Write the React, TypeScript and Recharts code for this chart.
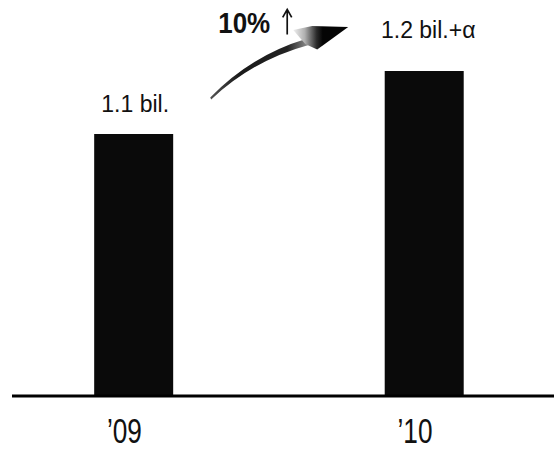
import React from "react";
import { BarChart, Bar, XAxis, YAxis, LabelList } from "recharts";

// Shipments by year, in billions
const years = [2009, 2010];
const yearLabels = ["\u201909", "\u201910"];
const values = [1.1, 1.2];
const valueLabels = ["1.1 bil.", "1.2 bil.+\u03b1"];
const growthLabel = "10%";

const data = years.map((year, i) => ({ year, value: values[i], label: valueLabels[i] }));

const FONT = "'Liberation Sans', Arial, Helvetica, sans-serif";

// Per-bar nudges for the value captions (relative to bar center / bar top)
const captionShiftX = [1.5, 4];
const captionRise = [22, 33];

const YearTick = (props: any) => {
  const { x, y, payload } = props;
  const idx = years.indexOf(payload.value);
  return (
    <g transform={`translate(${x - 9},${y + 47}) scale(0.82,1.12)`}>
      <text x={0} y={0} textAnchor="middle" fontFamily={FONT} fontSize={32} fill="#111">
        {yearLabels[idx]}
      </text>
    </g>
  );
};

const ValueCaption = (props: any) => {
  const { x, y, width, index } = props;
  return (
    <text
      x={x + width / 2 + captionShiftX[index]}
      y={y - captionRise[index]}
      textAnchor="middle"
      fontFamily={FONT}
      fontSize={23}
      fill="#111"
    >
      {valueLabels[index]}
    </text>
  );
};

// Curved growth arrow, anchored to the top-left corner of the last bar
const GrowthArrow = (props: any) => {
  const { x, y, index } = props;
  if (index !== values.length - 1) return null;
  const p = (dx: number, dy: number) => `${x + dx} ${y + dy}`;
  return (
    <g>
      <defs>
        <linearGradient id="arrowHead" gradientUnits="userSpaceOnUse" x1={x - 92} y1={0} x2={x - 62} y2={0}>
          <stop offset="0%" stopColor="#f2f2f2" />
          <stop offset="40%" stopColor="#b0b0b0" />
          <stop offset="80%" stopColor="#2a2a2a" />
          <stop offset="100%" stopColor="#050505" />
        </linearGradient>
        <linearGradient id="arrowShaft" gradientUnits="userSpaceOnUse" x1={x - 175} y1={0} x2={x - 78} y2={0}>
          <stop offset="0%" stopColor="#555" />
          <stop offset="30%" stopColor="#1a1a1a" />
          <stop offset="80%" stopColor="#222" />
          <stop offset="100%" stopColor="#888" />
        </linearGradient>
      </defs>
      {/* tapered shaft */}
      <path
        d={`M ${p(-174.5, 26.5)} Q ${p(-133.5, -15.5)} ${p(-79, -32)} L ${p(-76, -26)} Q ${p(-131.5, -11)} ${p(-173.5, 28.5)} Z`}
        fill="url(#arrowShaft)"
      />
      {/* head */}
      <path
        d={`M ${p(-91.5, -41)} L ${p(-72.5, -45)} L ${p(-36.5, -44)} L ${p(-67.5, -21.5)} L ${p(-79.5, -27)} Z`}
        fill="url(#arrowHead)"
      />
      <text x={x - 166.5} y={y - 38} fontFamily={FONT} fontSize={26} fontWeight="bold" fill="#111"
        transform={`translate(0,${(y - 38) * -0.1}) scale(1,1.1)`}>
        {growthLabel}
      </text>
      {/* thin up-arrow next to the percentage */}
      <path
        d={`M ${p(-97.5, -36.5)} L ${p(-97.5, -60.5)} M ${p(-102, -53.5)} L ${p(-97.5, -61.5)} L ${p(-93, -53.5)}`}
        fill="none"
        stroke="#111"
        strokeWidth={1.7}
      />
    </g>
  );
};

export default function App() {
  return (
    <div style={{ position: "absolute", left: 0, top: 0, width: 554, height: 450, background: "#fff" }}>
      <BarChart width={554} height={450} data={data} margin={{ top: 6, right: 0, bottom: 0, left: 12 }}>
        <YAxis hide type="number" domain={[0.684, 1.303]} allowDataOverflow />
        <XAxis
          dataKey="year"
          type="number"
          domain={[2008.582, 2010.4475]}
          ticks={years}
          interval={0}
          allowDataOverflow
          height={54}
          tickLine={false}
          tickSize={0}
          tickMargin={0}
          axisLine={{ stroke: "#000", strokeWidth: 3 }}
          tick={<YearTick />}
        />
        <Bar dataKey="value" fill="#0a0a0a" barSize={79} isAnimationActive={false}>
          <LabelList dataKey="value" content={<ValueCaption />} />
          <LabelList dataKey="value" content={<GrowthArrow />} />
        </Bar>
      </BarChart>
    </div>
  );
}
